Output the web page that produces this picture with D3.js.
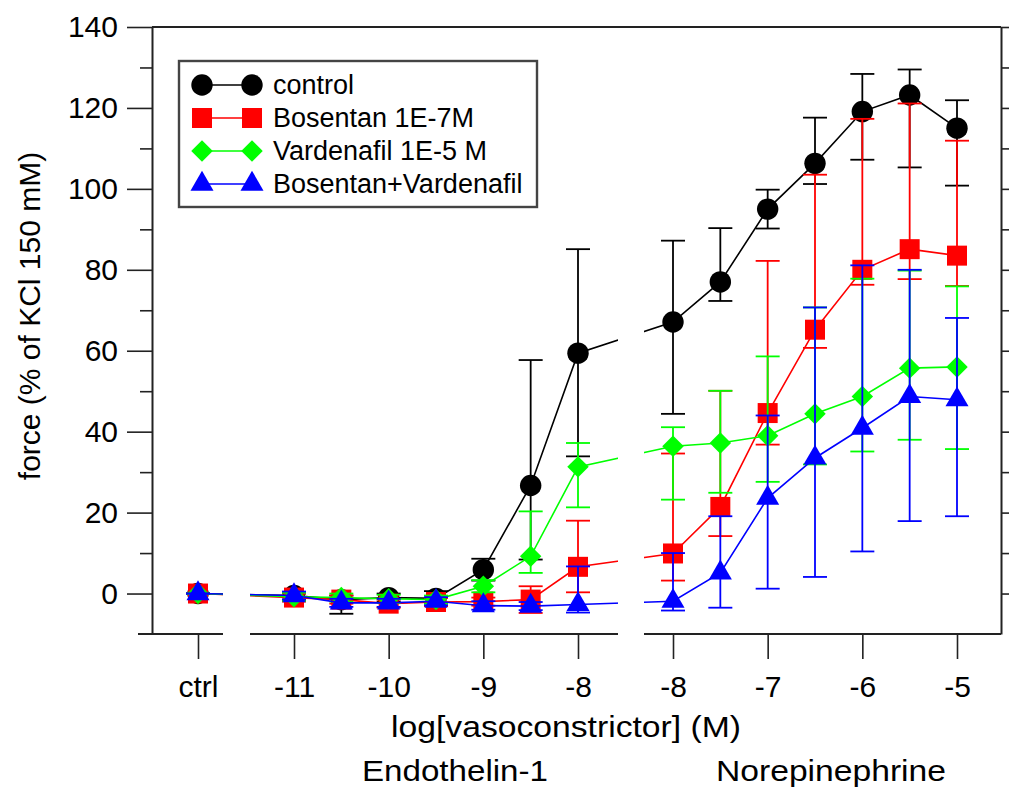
<!DOCTYPE html>
<html>
<head>
<meta charset="utf-8">
<script src="https://cdn.jsdelivr.net/npm/d3@7"></script>
<style>
  body { margin: 0; background: #fff; }
  svg text { font-family: "Liberation Sans", Arial, Helvetica, sans-serif; fill: #000; }
</style>
</head>
<body>
<svg width="1013" height="789"></svg>
<script>
// x categories: control point, then endothelin-1 and norepinephrine log doses
const ctrlLabel = ["ctrl"];
const et1Log = [-11, -10.5, -10, -9.5, -9, -8.5, -8];
const neLog = [-8, -7.5, -7, -6.5, -6, -5.5, -5];

const et1Ticks = [-11, -10, -9, -8];
const neTicks = [-8, -7, -6, -5];
const yTicks = [0, 20, 40, 60, 80, 100, 120, 140];
const yMinorTicks = [10, 30, 50, 70, 90, 110, 130];
const yRightTicks = [0, 10, 20, 30, 40, 50, 60, 70, 80, 90, 100, 110, 120, 130, 140];

// values in order: ctrl, ET-1 (7 doses), NE (7 doses)
const controlMean = [0, -0.5, -1.5, -1.0, -1.2, 5.9, 26.7, 59.4, 67.1, 77.0, 95.0, 106.3, 119.1, 123.2, 115.0];
const controlUp   = [0, 0.5, 1, 1, 1.8, 2.7, 31, 25.7, 20.1, 13.3, 4.8, 11.3, 9.3, 6.3, 6.9];
const controlDown = [0, 0.5, 3.5, 1, 1.8, 2.7, 18.3, 25.5, 22.7, 4.7, 4.8, 5.1, 11.9, 17.9, 14.2];

const bosentanMean = [0, -1, -1.5, -2.5, -2.1, -2, -1.5, 6.6, 9.9, 21.4, 44.6, 65.2, 80.0, 85.1, 83.5];
const bosentanUp   = [0, 1, 1, 1, 1, 1, 3.3, 11.4, 24.7, 28.7, 37.6, 38.3, 37.3, 36, 28.4];
const bosentanDown = [0, 1, 1, 1, 1, 1, 3.3, 6.3, 6.7, 7.2, 7.8, 4.5, 3.7, 7.4, 7.5];

const vardenafilMean = [0, -0.8, -1, -1.3, -1.5, 1.8, 9.2, 31.3, 36.4, 37.2, 39.0, 44.4, 48.7, 55.7, 56.0];
const vardenafilUp   = [0, 1, 1, 1, 1, 1.5, 11.1, 5.9, 4.7, 12.9, 19.6, 26.3, 29.1, 24.1, 19.9];
const vardenafilDown = [0, 1, 1, 1, 1, 1.5, 4.1, 10, 13.2, 12.3, 11.4, 12.5, 13.6, 17.7, 20.3];

const comboMean = [0, -0.5, -2.3, -2.3, -1.9, -3, -3.1, -2.7, -1.9, 5.1, 23.6, 33.5, 40.9, 48.7, 47.9];
const comboUp   = [0, 1, 1, 1, 1, 1.1, 1, 9.4, 11.9, 14, 20.4, 37.2, 40.2, 31.3, 20.2];
const comboDown = [0, 1, 1, 1, 1, 1, 1, 2, 2.3, 8.6, 22.4, 29.4, 30.5, 30.8, 28.8];

const series = [
  { name: "control", color: "#000000", shape: "circle", mean: controlMean, up: controlUp, down: controlDown },
  { name: "Bosentan 1E-7M", color: "#ff0000", shape: "square", mean: bosentanMean, up: bosentanUp, down: bosentanDown },
  { name: "Vardenafil 1E-5 M", color: "#00ff00", shape: "diamond", mean: vardenafilMean, up: vardenafilUp, down: vardenafilDown },
  { name: "Bosentan+Vardenafil", color: "#0000ff", shape: "triangle", mean: comboMean, up: comboUp, down: comboDown }
];

const svg = d3.select("svg");
const plotTop = 27, plotBottom = 634, plotLeft = 152, plotRight = 1001;
const axisColor = "#222";

const y = d3.scaleLinear().domain([-10, 140]).range([plotBottom, plotTop]);
const xCtrl = d3.scalePoint().domain(ctrlLabel).range([198, 198]);
const xET = d3.scaleLinear().domain([-11, -8]).range([294, 578]);
const xNE = d3.scaleLinear().domain([-8, -5]).range([673, 957]);

// broken x axis: pixel extent of each piece
const segments = [[138, 223], [250, 618], [644, plotRight]];

const xPos = [xCtrl("ctrl")].concat(et1Log.map(xET), neLog.map(xNE));

const clip = svg.append("defs").append("clipPath").attr("id", "segclip");
clip.selectAll("rect")
  .data(segments)
  .join("rect")
  .attr("x", d => d[0])
  .attr("width", d => d[1] - d[0])
  .attr("y", 0)
  .attr("height", 789);

// frame
svg.append("line")
  .attr("x1", plotLeft).attr("x2", plotRight)
  .attr("y1", plotTop).attr("y2", plotTop)
  .attr("stroke", axisColor).attr("stroke-width", 2);

svg.append("g")
  .selectAll("line")
  .data(segments)
  .join("line")
  .attr("x1", d => d[0]).attr("x2", d => d[1])
  .attr("y1", plotBottom).attr("y2", plotBottom)
  .attr("stroke", axisColor).attr("stroke-width", 2.2);

function styleAxis(g, size) {
  g.select(".domain").attr("stroke", axisColor).attr("stroke-width", 2);
  g.selectAll(".tick line").attr("stroke", axisColor).attr("stroke-width", 1.6);
  g.selectAll(".tick text").attr("font-size", size);
}

const yAxis = svg.append("g")
  .attr("transform", `translate(${plotLeft},0)`)
  .call(d3.axisLeft(y).tickValues(yTicks).tickSize(25).tickPadding(9).tickSizeOuter(0));
styleAxis(yAxis, 30);

const yMinor = svg.append("g")
  .attr("transform", `translate(${plotLeft},0)`)
  .call(d3.axisLeft(y).tickValues(yMinorTicks).tickSize(12).tickFormat(""));
yMinor.select(".domain").remove();
styleAxis(yMinor, 0);

const yRight = svg.append("g")
  .attr("transform", `translate(${plotRight},0)`)
  .call(d3.axisRight(y).tickValues(yRightTicks).tickSize(8).tickFormat("").tickSizeOuter(0));
styleAxis(yRight, 0);

function bottomAxis(scale, ticks) {
  const g = svg.append("g")
    .attr("transform", `translate(0,${plotBottom})`)
    .call(d3.axisBottom(scale).tickValues(ticks).tickSize(25).tickPadding(17).tickFormat(d => String(d)));
  g.select(".domain").remove();
  styleAxis(g, 30);
}
bottomAxis(xCtrl, ctrlLabel);
bottomAxis(xET, et1Ticks);
bottomAxis(xNE, neTicks);

// axis titles
svg.append("text")
  .attr("transform", "translate(40,316) rotate(-90)")
  .attr("text-anchor", "middle")
  .attr("font-size", 30)
  .text("force (% of KCl 150 mM)");

// the bottom titles are a little wider than plain 30px text
function wideTitle(x, yPos, len, label) {
  svg.append("text")
    .attr("x", x - len / 2).attr("y", yPos)
    .attr("font-size", 30)
    .attr("textLength", len)
    .attr("lengthAdjust", "spacingAndGlyphs")
    .text(label);
}
wideTitle(566, 737, 350, "log[vasoconstrictor] (M)");
wideTitle(455, 781, 186, "Endothelin-1");
wideTitle(831, 781, 230, "Norepinephrine");

// markers
const symbols = {
  circle: { path: d3.symbol().type(d3.symbolCircle).size(360)(), rot: 0 },
  square: { path: d3.symbol().type(d3.symbolSquare).size(400)(), rot: 0 },
  diamond: { path: d3.symbol().type(d3.symbolSquare).size(230)(), rot: 45 },
  triangle: { path: d3.symbol().type(d3.symbolTriangle).size(230)(), rot: 0 }
};

const line = d3.line()
  .x((d, i) => xPos[i])
  .y(d => y(d));

const capHalf = 12;

series.forEach(s => {
  const g = svg.append("g");

  g.append("path")
    .attr("d", line(s.mean))
    .attr("fill", "none")
    .attr("stroke", s.color)
    .attr("stroke-width", 1.6)
    .attr("clip-path", "url(#segclip)");

  const bars = g.append("g")
    .attr("stroke", s.color)
    .attr("stroke-width", 1.8)
    .selectAll("g")
    .data(s.mean.map((m, i) => ({ x: xPos[i], m: m, up: s.up[i], down: s.down[i] })))
    .join("g");

  bars.append("line")
    .attr("x1", d => d.x).attr("x2", d => d.x)
    .attr("y1", d => y(d.m + d.up)).attr("y2", d => y(d.m - d.down));
  bars.append("line")
    .attr("x1", d => d.x - capHalf).attr("x2", d => d.x + capHalf)
    .attr("y1", d => y(d.m + d.up)).attr("y2", d => y(d.m + d.up));
  bars.append("line")
    .attr("x1", d => d.x - capHalf).attr("x2", d => d.x + capHalf)
    .attr("y1", d => y(d.m - d.down)).attr("y2", d => y(d.m - d.down));

  const sym = symbols[s.shape];
  g.append("g")
    .selectAll("path")
    .data(s.mean)
    .join("path")
    .attr("d", sym.path)
    .attr("transform", (d, i) => `translate(${xPos[i]},${y(d)}) rotate(${sym.rot})`)
    .attr("fill", s.color);
});

// legend
const legend = svg.append("g");
legend.append("rect")
  .attr("x", 179).attr("y", 61)
  .attr("width", 358).attr("height", 146)
  .attr("fill", "#fff")
  .attr("stroke", "#444")
  .attr("stroke-width", 2.4);

const legendY = d3.scalePoint().domain(series.map(s => s.name)).range([85, 184]);

series.forEach(s => {
  const ly = legendY(s.name);
  const sym = symbols[s.shape];
  legend.append("line")
    .attr("x1", 202).attr("x2", 252)
    .attr("y1", ly).attr("y2", ly)
    .attr("stroke", s.color).attr("stroke-width", 1.6);
  [202, 252].forEach(lx => {
    legend.append("path")
      .attr("d", sym.path)
      .attr("transform", `translate(${lx},${ly}) rotate(${sym.rot})`)
      .attr("fill", s.color);
  });
  legend.append("text")
    .attr("x", 273).attr("y", ly)
    .attr("dy", "0.35em")
    .attr("font-size", 27)
    .text(s.name);
});
</script>
</body>
</html>
